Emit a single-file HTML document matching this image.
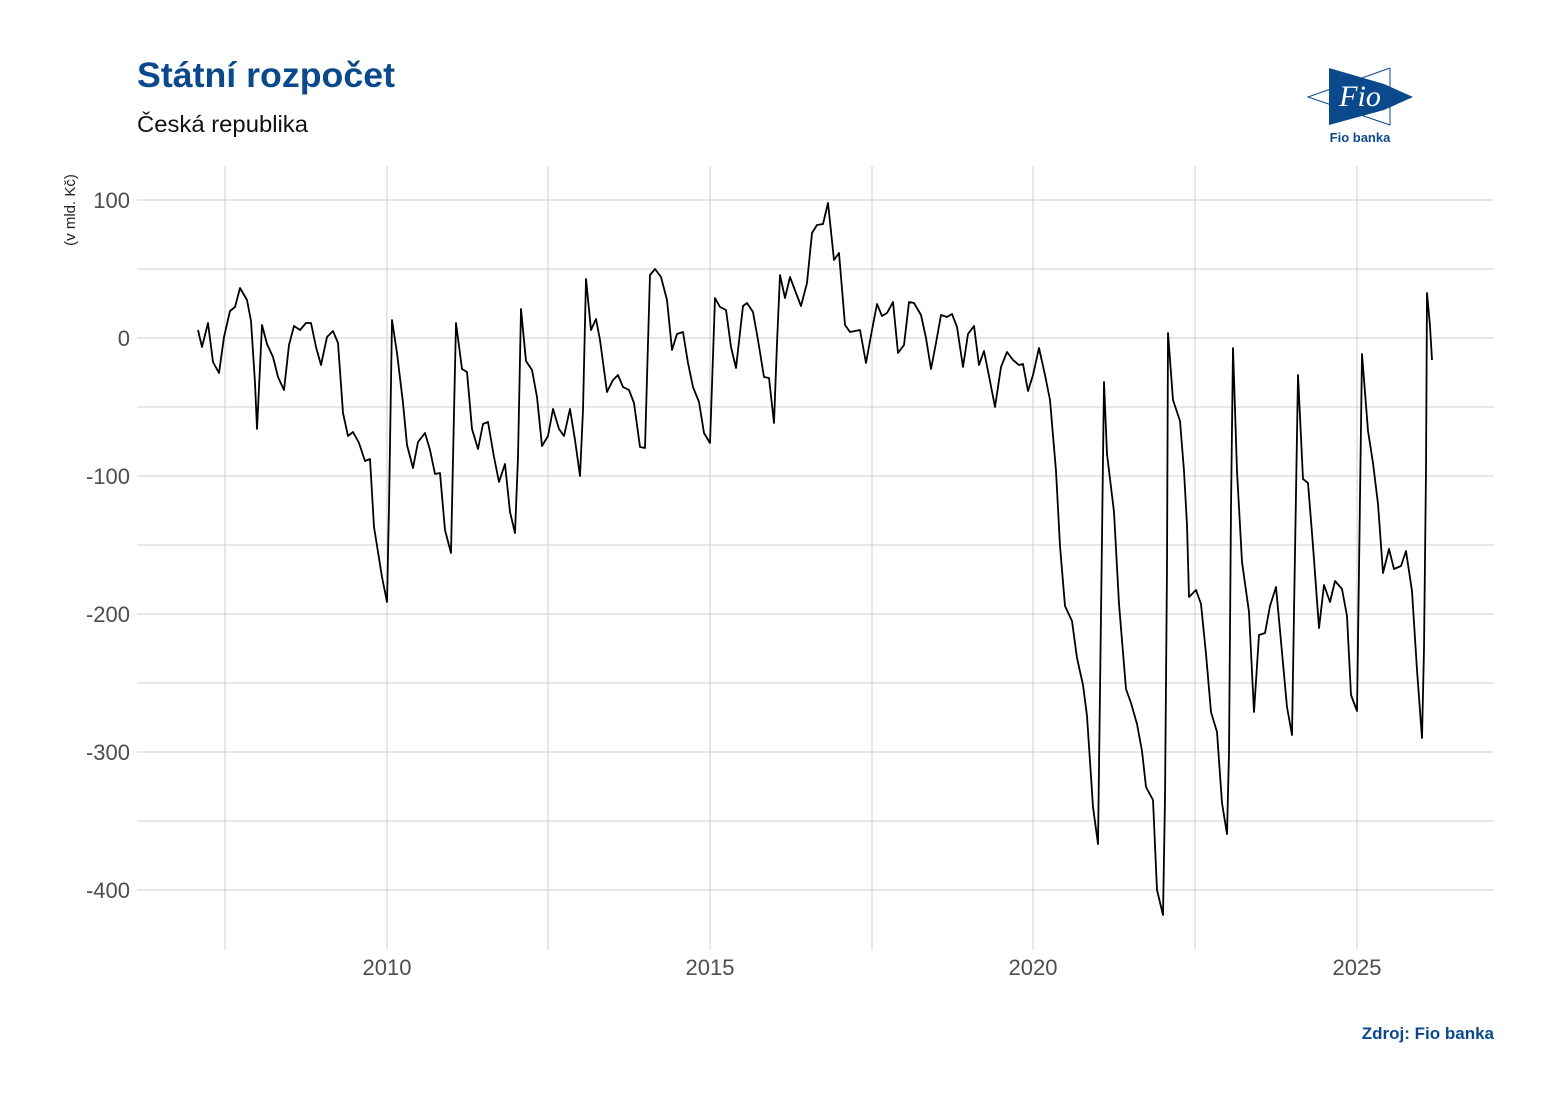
<!DOCTYPE html>
<html><head><meta charset="utf-8"><style>
html,body{margin:0;padding:0;background:#fff;}
svg{display:block;}
</style></head><body>
<svg width="1554" height="1102" viewBox="0 0 1554 1102" xmlns="http://www.w3.org/2000/svg" font-family="Liberation Sans, sans-serif">
<rect width="1554" height="1102" fill="#fff"/>
<g stroke="#cfcfcf" stroke-width="1">
<line x1="137" x2="1494" y1="200" y2="200"/><line x1="137" x2="1494" y1="269" y2="269"/>
<line x1="137" x2="1494" y1="338" y2="338"/><line x1="137" x2="1494" y1="407" y2="407"/>
<line x1="137" x2="1494" y1="476" y2="476"/><line x1="137" x2="1494" y1="545" y2="545"/>
<line x1="137" x2="1494" y1="614" y2="614"/><line x1="137" x2="1494" y1="683" y2="683"/>
<line x1="137" x2="1494" y1="752" y2="752"/><line x1="137" x2="1494" y1="821" y2="821"/>
<line x1="137" x2="1494" y1="890" y2="890"/>
<line y1="166" y2="950" x1="225" x2="225"/><line y1="166" y2="950" x1="387" x2="387"/>
<line y1="166" y2="950" x1="548" x2="548"/><line y1="166" y2="950" x1="710" x2="710"/>
<line y1="166" y2="950" x1="872" x2="872"/><line y1="166" y2="950" x1="1033" x2="1033"/>
<line y1="166" y2="950" x1="1195" x2="1195"/><line y1="166" y2="950" x1="1357" x2="1357"/>
</g>
<g fill="#4d4d4d" font-size="22" text-anchor="end">
<text x="130" y="208">100</text><text x="130" y="346">0</text><text x="130" y="484">-100</text>
<text x="130" y="622">-200</text><text x="130" y="760">-300</text><text x="130" y="898">-400</text>
</g>
<g fill="#4d4d4d" font-size="22" text-anchor="middle">
<text x="387" y="975">2010</text><text x="710" y="975">2015</text><text x="1033" y="975">2020</text><text x="1357" y="975">2025</text>
</g>
<text transform="translate(75,210) rotate(-90)" font-size="15" text-anchor="middle" fill="#222">(v mld. Kč)</text>
<text x="137" y="87" font-size="35" font-weight="bold" fill="#0a4a8c" textLength="258" lengthAdjust="spacingAndGlyphs">Státní rozpočet</text>
<text x="137" y="132" font-size="23" fill="#111" textLength="171" lengthAdjust="spacingAndGlyphs">Česká republika</text>
<text x="1494" y="1039" font-size="17" font-weight="bold" fill="#0a4a8c" text-anchor="end">Zdroj: Fio banka</text>
<g>
<polygon points="1329,68 1384,84 1413,97 1384,110 1329,125" fill="#0a4a8c"/>
<polyline points="1390,68 1308,97 1390,125 1390,68" fill="none" stroke="#0a4a8c" stroke-width="1"/>
<text x="1360" y="106" font-family="Liberation Serif, serif" font-style="italic" font-size="30" fill="#fff" text-anchor="middle">Fio</text>
<text x="1360" y="142" font-size="13" font-weight="bold" fill="#0a4a8c" text-anchor="middle">Fio banka</text>
</g>
<polyline fill="none" stroke="#000" stroke-width="1.8" stroke-linejoin="round" points="
198,330 202,347 208,323 213,362 219,373 224,337 230,311 235,307 240,288 247,300 251,321 255,383 257,429 260,367 262,325 267,344 273,357 278,377 284,390 289,345 294,326 300,330 306,323 311,323 316,347 321,365 327,337 333,331 338,343 343,413 348,436 353,432 359,443 365,461 370,459 374,527 382,577 387,602 389,507 392,320 397,353 403,403 407,445 413,468 418,442 425,433 430,450 435,474 440,473 445,530 451,553 454,413 456,323 462,369 467,372 472,429 478,449 483,424 488,422 494,457 499,482 505,464 510,512 515,533 518,457 521,309 526,361 532,370 537,397 542,446 548,436 553,409 559,429 564,436 570,409 575,440 580,476 583,410 586,279 591,330 596,319 600,340 607,392 613,380 618,375 623,387 629,390 634,403 640,447 645,448 648,343 650,275 655,269 661,277 667,300 672,350 677,334 683,332 688,363 693,387 699,402 704,433 710,443 715,298 720,307 726,310 731,347 736,368 743,306 747,303 753,312 758,340 764,377 769,378 774,423 777,343 780,275 785,298 790,277 796,293 801,306 807,283 812,233 817,225 823,224 828,203 834,260 839,253 845,325 850,332 855,331 860,330 866,363 872,330 877,304 882,316 887,313 893,302 898,353 904,345 909,302 914,303 921,315 926,338 931,369 936,343 941,315 947,317 952,314 957,327 963,367 968,334 974,326 979,365 984,351 989,376 995,407 1001,367 1007,352 1013,360 1019,365 1023,364 1028,391 1033,375 1039,348 1045,375 1050,400 1056,471 1060,546 1065,606 1072,621 1077,658 1083,685 1087,716 1093,807 1098,844 1100,691 1102,537 1104,382 1107,454 1114,512 1119,604 1126,689 1131,703 1137,724 1142,751 1146,787 1153,800 1157,890 1163,915 1165,799 1167,566 1168,333 1173,400 1180,421 1184,471 1187,525 1189,597 1196,590 1201,604 1206,654 1211,712 1217,732 1222,803 1227,834 1229,753 1231,508 1233,348 1237,471 1242,562 1249,612 1254,712 1259,635 1265,633 1270,606 1276,587 1287,707 1292,735 1294,612 1297,434 1298,375 1303,479 1308,483 1313,546 1319,628 1324,585 1330,602 1335,581 1342,589 1347,616 1351,695 1357,711 1359,570 1362,354 1368,431 1373,463 1378,504 1383,573 1389,549 1394,569 1401,566 1406,551 1412,591 1417,670 1422,738 1424,649 1426,471 1427,293 1430,326 1432,360"/>
</svg>
</body></html>
